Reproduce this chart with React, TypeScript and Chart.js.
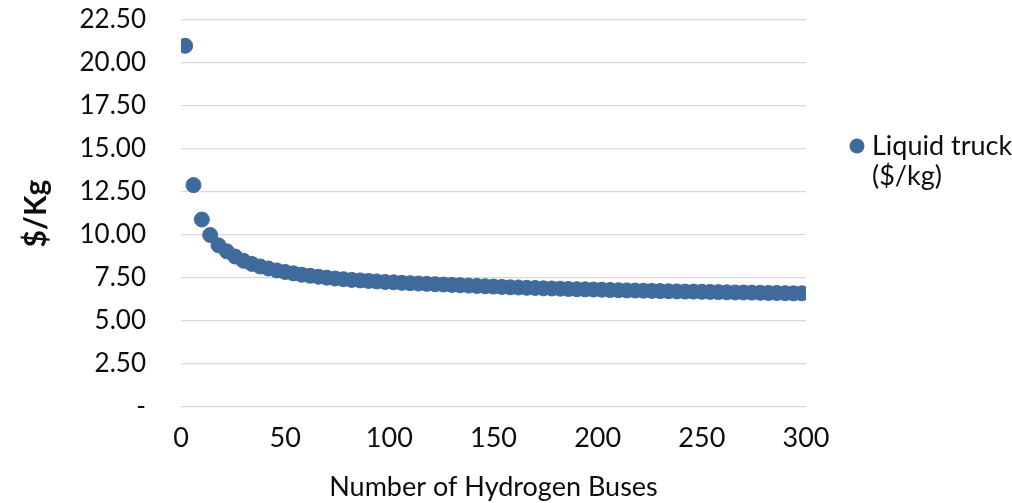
import React, { useEffect, useRef } from "react";
import { Chart, registerables } from "chart.js";

Chart.register(...registerables);

const busCounts: number[] = [
  2, 6, 10, 14, 18, 22, 26, 30, 34, 38, 42, 46, 50, 54, 58, 62, 66, 70, 74, 78,
  82, 86, 90, 94, 98, 102, 106, 110, 114, 118, 122, 126, 130, 134, 138, 142, 146, 150, 154, 158,
  162, 166, 170, 174, 178, 182, 186, 190, 194, 198, 202, 206, 210, 214, 218, 222, 226, 230, 234, 238,
  242, 246, 250, 254, 258, 262, 266, 270, 274, 278, 282, 286, 290, 294, 298,
];

const costPerKg: number[] = [
  21.0, 12.9, 10.9, 10.0, 9.4, 9.05, 8.75, 8.5, 8.32, 8.17, 8.05, 7.94, 7.85, 7.77, 7.69, 7.63, 7.57, 7.52, 7.47, 7.43,
  7.39, 7.36, 7.33, 7.3, 7.27, 7.25, 7.22, 7.2, 7.18, 7.16, 7.14, 7.12, 7.1, 7.08, 7.06, 7.04, 7.02, 7.0, 6.98, 6.96,
  6.95, 6.93, 6.92, 6.9, 6.89, 6.88, 6.86, 6.85, 6.84, 6.83, 6.82, 6.8, 6.79, 6.78, 6.77, 6.76, 6.75, 6.74, 6.73, 6.72,
  6.71, 6.71, 6.7, 6.69, 6.68, 6.67, 6.66, 6.66, 6.65, 6.64, 6.63, 6.63, 6.62, 6.61, 6.61,
];

const seriesName = "Liquid truck ($/kg)";
const legendLines: string[] = ["Liquid truck", "($/kg)"];
const xTitle = "Number of Hydrogen Buses";
const yTitle = "$/Kg";

const FONT = "Lato, 'Open Sans', sans-serif";
const COLOR = "#3F6A9C";

export default function App() {
  const ref = useRef<HTMLCanvasElement | null>(null);

  useEffect(() => {
    if (!ref.current) return;
    const legendPlugin = {
      id: "customLegend",
      afterDraw(chart: any) {
        const ctx = chart.ctx;
        const area = chart.chartArea;
        ctx.save();
        const x0 = area.right + 51;
        const y0 = 146;
        ctx.fillStyle = COLOR;
        ctx.beginPath();
        ctx.arc(x0, y0, 7.5, 0, Math.PI * 2);
        ctx.fill();
        ctx.fillStyle = "#0d0d0d";
        ctx.font = `27px ${FONT}`;
        ctx.textBaseline = "alphabetic";
        ctx.textAlign = "left";
        legendLines.forEach((line, i) => {
          ctx.fillText(line, x0 + 15, 155 + i * 30);
        });
        ctx.restore();
      },
    };

    const chart = new Chart(ref.current, {
      type: "scatter",
      data: {
        datasets: [
          {
            label: seriesName,
            data: busCounts.map((x, i) => ({ x, y: costPerKg[i] })),
            backgroundColor: COLOR,
            borderColor: COLOR,
            pointRadius: 7.5,
            pointHoverRadius: 7.5,
          },
        ],
      },
      options: {
        animation: false,
        responsive: false,
        maintainAspectRatio: false,
        layout: { padding: { left: 0, right: 206, top: 20, bottom: 0 } },
        plugins: {
          legend: { display: false },
          tooltip: { enabled: false },
        },
        scales: {
          x: {
            type: "linear",
            min: 0,
            max: 300,
            afterFit: (s: any) => {
              s.height = 96;
              s.paddingLeft = 0;
              s.paddingRight = 0;
            },
            ticks: {
              stepSize: 50,
              padding: 15,
              color: "#0d0d0d",
              font: { family: FONT, size: 27 },
              maxRotation: 0,
            },
            grid: { display: false, drawTicks: false },
            border: { display: false },
            title: {
              display: true,
              text: xTitle,
              color: "#0d0d0d",
              font: { family: FONT, size: 27 },
              padding: { top: 0, bottom: 0 },
            },
          },
          y: {
            type: "linear",
            min: 0,
            max: 22.5,
            afterFit: (s: any) => {
              s.width = 181;
              s.paddingTop = 0;
              s.paddingBottom = 0;
            },
            ticks: {
              stepSize: 2.5,
              padding: 35,
              color: "#0d0d0d",
              font: { family: FONT, size: 26 },
              callback: (v: any) => (Number(v) === 0 ? "-" : Number(v).toFixed(2)),
            },
            grid: { color: "#D9D9D9", lineWidth: 1.3, drawTicks: false },
            border: { display: false },
            title: {
              display: true,
              text: yTitle,
              color: "#0d0d0d",
              font: { family: FONT, size: 30, weight: "bold" },
              padding: { top: 18, bottom: 0 },
            },
          },
        },
      },
      plugins: [legendPlugin],
    });
    return () => chart.destroy();
  }, []);

  return (
    <div style={{ position: "fixed", left: 0, top: 0, width: 1012, height: 503, background: "#fff" }}>
      <canvas ref={ref} width={1012} height={503} style={{ width: 1012, height: 503 }} />
    </div>
  );
}
